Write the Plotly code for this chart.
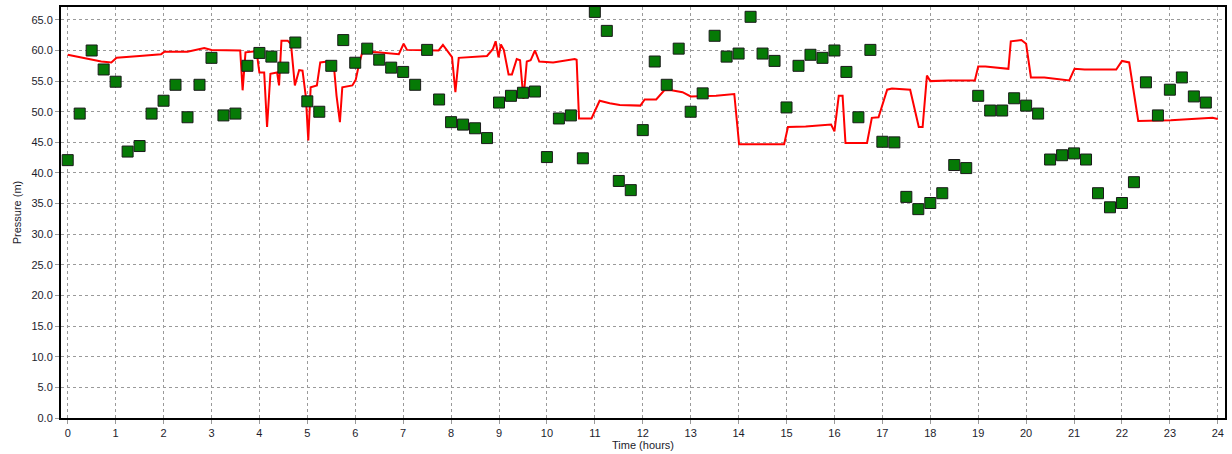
import plotly.graph_objects as go

# Observed pressures (green squares), every 15 minutes
obs_time = [i * 0.25 for i in range(96)]
obs_pressure = [
    42.1, 49.7, 60.0, 56.9, 54.9, 43.5, 44.4, 49.7, 51.8, 54.4, 49.1, 54.4,
    58.8, 49.4, 49.7, 57.5, 59.6, 59.0, 57.2, 61.3, 51.7, 50.0, 57.5, 61.7,
    58.0, 60.3, 58.5, 57.2, 56.5, 54.4, 60.1, 52.0, 48.3, 47.9, 47.3, 45.7,
    51.5, 52.6, 53.1, 53.3, 42.6, 48.9, 49.4, 42.4, 66.3, 63.2, 38.7, 37.2,
    47.0, 58.2, 54.4, 60.3, 50.0, 53.0, 62.4, 59.0, 59.5, 65.5, 59.5, 58.3,
    50.7, 57.5, 59.3, 58.8, 60.0, 56.5, 49.1, 60.1, 45.1, 45.0, 36.1, 34.1,
    35.1, 36.7, 41.3, 40.8, 52.6, 50.2, 50.2, 52.2, 51.0, 49.7, 42.2, 42.9,
    43.2, 42.2, 36.7, 34.4, 35.1, 38.5, 54.8, 49.4, 53.6, 55.6, 52.5, 51.5,
]

# Simulated pressure (red line)
sim_time = [
    0.0, 0.35, 0.7, 0.91, 1.02, 1.5, 1.95, 2.02, 2.5, 2.85, 3.0, 3.6, 3.65,
    3.71, 3.83, 3.94, 4.0, 4.1, 4.16, 4.23, 4.37, 4.41, 4.46, 4.59, 4.66,
    4.74, 4.83, 4.9, 4.97, 5.02, 5.07, 5.2, 5.27, 5.42, 5.56, 5.61, 5.68,
    5.73, 5.94, 6.01, 6.08, 6.15, 6.46, 6.91, 7.01, 7.08, 7.74, 7.83, 8.02,
    8.09, 8.16, 8.75, 8.87, 8.93, 8.99, 9.04, 9.1, 9.2, 9.27, 9.37, 9.44,
    9.51, 9.58, 9.66, 9.75, 9.84, 10.13, 10.58, 10.62, 10.67, 10.93, 11.1,
    11.31, 11.52, 11.95, 12.04, 12.28, 12.45, 12.6, 12.83, 13.0, 13.18,
    13.53, 13.91, 14.01, 14.95, 15.03, 15.4, 15.88, 15.93, 16.0, 16.09,
    16.17, 16.23, 16.68, 16.78, 16.92, 17.1, 17.2, 17.58, 17.76, 17.84,
    17.93, 18.0, 18.38, 18.93, 19.0, 19.15, 19.63, 19.68, 19.9, 20.0, 20.1,
    20.38, 20.9, 21.01, 21.22, 21.88, 22.0, 22.15, 22.34, 23.02, 23.89, 24.0,
]
sim_pressure = [
    59.3, 58.8, 58.2, 58.05, 58.8, 59.1, 59.4, 59.8, 59.8, 60.4, 60.1, 60.0,
    53.5, 59.7, 59.8, 59.9, 56.4, 56.4, 47.5, 56.2, 56.4, 54.3, 61.6, 61.6,
    61.0, 54.3, 56.8, 56.7, 52.4, 45.3, 54.0, 54.3, 58.05, 58.2, 57.0, 52.6,
    48.3, 54.0, 54.3, 55.2, 57.8, 59.8, 59.7, 59.4, 61.1, 60.1, 60.0, 60.9,
    58.9, 53.2, 58.8, 59.1, 60.2, 61.5, 58.9, 61.0, 60.1, 56.1, 56.1, 58.6,
    58.4, 52.1, 58.2, 58.4, 60.0, 58.2, 58.05, 58.6, 58.5, 48.9, 48.9, 51.8,
    51.4, 51.1, 51.0, 52.0, 52.0, 53.5, 53.5, 53.2, 52.5, 52.5, 52.6, 52.9,
    44.7, 44.7, 47.5, 47.6, 47.9, 47.9, 46.8, 52.6, 52.6, 44.9, 44.9, 49.0,
    49.1, 53.6, 53.8, 53.6, 47.5, 47.5, 55.9, 55.0, 55.1, 55.1, 57.4, 57.4,
    57.0, 61.5, 61.7, 61.1, 55.6, 55.6, 55.1, 57.0, 56.9, 56.9, 58.3, 58.05,
    48.5, 48.6, 49.0, 48.8,
]

x_ticks = list(range(0, 25))
y_ticks = [i * 5 for i in range(14)]

fig = go.Figure()
fig.add_trace(go.Scatter(
    x=sim_time, y=sim_pressure, mode="lines",
    line=dict(color="#ff0000", width=2), showlegend=False,
))
fig.add_trace(go.Scatter(
    x=obs_time, y=obs_pressure, mode="markers",
    marker=dict(symbol="square", size=11, color="#067a06",
                line=dict(color="#1a1a1a", width=1)),
    showlegend=False,
))

font = dict(family="Liberation Sans, Arial, sans-serif", size=11, color="#1c1c2c")
fig.update_layout(
    width=1232, height=454,
    margin=dict(l=61, r=5, t=6, b=35),
    paper_bgcolor="white", plot_bgcolor="white",
    font=font,
)
fig.update_xaxes(
    range=[-0.14, 24.15], tickvals=x_ticks, ticktext=[str(v) for v in x_ticks],
    showgrid=True, gridcolor="#9a9a9a", griddash="3px,3px", gridwidth=1,
    showline=True, linecolor="black", linewidth=2, mirror=True,
    ticks="outside", ticklen=4, tickcolor="#9a9a9a",
    zeroline=False,
    title=dict(text="Time (hours)", font=dict(size=11), standoff=2),
)
fig.update_yaxes(
    range=[0, 67.1], tickvals=y_ticks, ticktext=[f"{v:.1f}" for v in y_ticks],
    showgrid=True, gridcolor="#9a9a9a", griddash="3px,3px", gridwidth=1,
    showline=True, linecolor="black", linewidth=2, mirror=True,
    ticks="outside", ticklen=4, tickcolor="#9a9a9a",
    zeroline=False,
    title=dict(text="Pressure (m)", font=dict(size=11), standoff=8),
)

fig.write_html(
    "out.html",
    config={"displayModeBar": False},
    post_script="document.body.style.margin='0';document.body.style.overflow='hidden';",
)
